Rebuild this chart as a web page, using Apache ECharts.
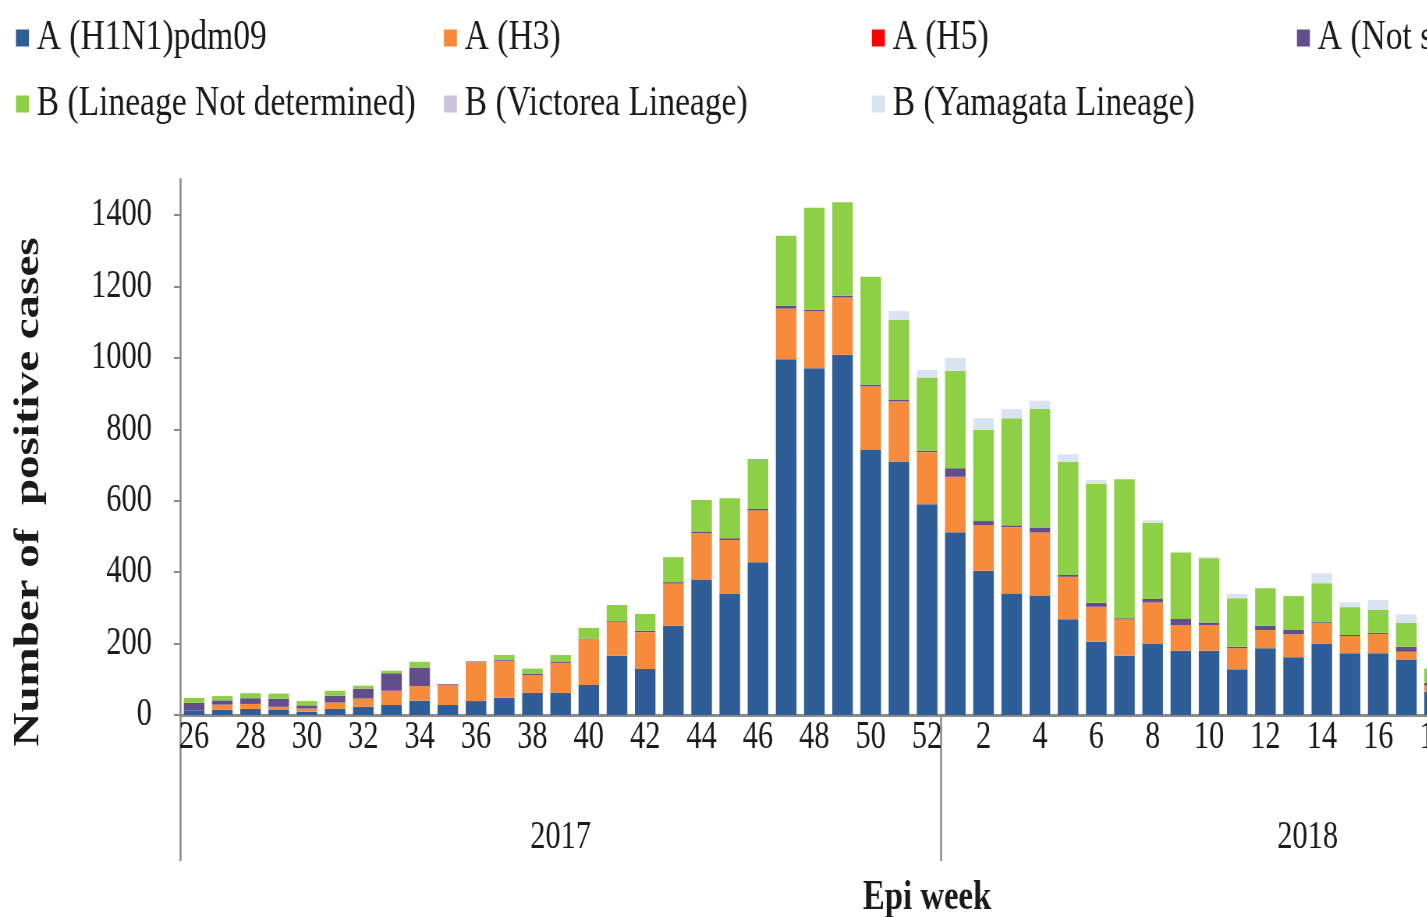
<!DOCTYPE html>
<html><head><meta charset="utf-8">
<script src="https://cdn.jsdelivr.net/npm/echarts@6/dist/echarts.min.js"></script>
<style>
html,body{margin:0;padding:0;background:#fff;overflow:hidden;width:1427px;height:917px}
#main{height:917px;transform-origin:0 0;}
</style></head>
<body><div id="main"></div>
<script>
// ---- data ----
const weeks2017 = [26,27,28,29,30,31,32,33,34,35,36,37,38,39,40,41,42,43,44,45,46,47,48,49,50,51,52];
const weeks2018 = [1,2,3,4,5,6,7,8,9,10,11,12,13,14,15,16,17,18,19,20,21,22,23,24,25,26];
const yTicks = [0,200,400,600,800,1000,1200,1400];
const years = ['2017','2018'];

const h1n1 =           [12,15,17,14,9,17,23,28,40,28,39,48,62,62,84,166,129,250,378,340,428,996,971,1009,742,710,590,512,404,339,333,268,205,166,199,180,180,128,187,162,199,173,173,154,65];
const h3 =             [0,14,14,9,9,18,23,40,41,56,109,104,50,84,128,95,103,118,131,150,145,142,160,160,178,168,146,155,128,187,178,119,98,102,116,72,72,59,51,64,58,48,54,23,17];
const h5 =             [0,0,0,0,0,0,0,0,0,0,0,0,0,0,0,0,0,0,0,0,0,0,0,0,0,0,0,0,0,0,0,0,0,0,0,0,0,0,0,0,0,0,0,0,0];
const notSubtyped =    [22,12,16,23,9,19,28,49,52,2,2,2,4,4,2,2,4,4,5,5,4,8,4,5,5,4,4,24,11,5,14,5,11,3,10,17,7,4,12,12,3,3,3,14,8];
const bNotDetermined = [14,12,14,14,12,14,8,7,16,0,0,14,14,18,30,45,47,70,88,112,140,196,285,262,302,224,205,273,255,300,332,317,333,389,213,186,180,136,105,95,109,78,64,67,40];
const bVictoria =      [0,0,0,0,0,0,0,0,0,0,0,0,0,0,0,0,0,0,0,0,0,0,0,0,0,0,0,0,0,0,0,0,0,0,0,0,0,0,0,0,0,0,0,0,0];
const bYamagata =      [0,0,0,0,0,0,0,0,0,0,0,0,0,0,0,0,0,0,0,0,0,0,0,0,0,25,21,36,33,26,23,21,11,0,7,0,4,12,0,0,28,14,28,24,0];

// ---- layout (reference is horizontally compressed) ----
const S = 0.78;
const W = 1427 / S;
const px = x => x / S;
const el = document.getElementById('main');
el.style.width = W + 'px';
el.style.transform = 'scaleX(' + S + ')';

const categories = weeks2017.map(w => '2017-W' + w).concat(weeks2018.map(w => '2018-W' + w));
const nCat = categories.length;
const catW = px(28.2);
const gridLeft = px(180);
const gridRight = W - gridLeft - nCat * catW;
const n2017 = weeks2017.length;

const FONT = 'Liberation Serif';
const TXT = '#1a1a1a';
const AX = '#8a8a8a';

const seriesDefs = [
  ['A (H1N1)pdm09', h1n1, '#2e5d98'],
  ['A (H3)', h3, '#f68b3c'],
  ['A (H5)', h5, '#ff0000'],
  ['A (Not subtyped)', notSubtyped, '#634e8c'],
  ['B (Lineage Not determined)', bNotDetermined, '#8dcf45'],
  ['B (Victorea Lineage)', bVictoria, '#cbc3dd'],
  ['B (Yamagata Lineage)', bYamagata, '#dae3f0']
];

const legendBase = {
  orient: 'vertical', top: 11, itemGap: 22, icon: 'rect',
  itemWidth: px(13), itemHeight: 17, selectedMode: false,
  textStyle: {fontFamily: FONT, fontSize: 43, lineHeight: 44, color: TXT, padding: [0,0,0,5]}
};
const legendCols = [
  [12, ['A (H1N1)pdm09', 'B (Lineage Not determined)']],
  [440, ['A (H3)', 'B (Victorea Lineage)']],
  [868, ['A (H5)', 'B (Yamagata Lineage)']],
  [1293, ['A (Not subtyped)']]
];

const chart = echarts.init(el, null, {renderer: 'canvas'});
chart.setOption({
  backgroundColor: '#fff',
  animation: false,
  legend: legendCols.map(c => Object.assign({}, legendBase, {left: px(c[0]), data: c[1]})),
  grid: {left: gridLeft, right: gridRight, top: 179.3, bottom: 202, containLabel: false, outerBoundsMode: 'none'},
  xAxis: [
    {
      type: 'category', data: categories, boundaryGap: true,
      axisLine: {onZero: false, lineStyle: {color: AX, width: 3}},
      axisTick: {show: false},
      axisLabel: {interval: 1, margin: 3, fontFamily: FONT, fontSize: 39, lineHeight: 39, color: TXT,
        formatter: v => v.split('-W')[1]},
      name: 'Epi week', nameLocation: 'middle', nameGap: 162,
      nameTextStyle: {fontFamily: FONT, fontSize: 42, fontWeight: 'bold', color: TXT}
    },
    {
      type: 'value', position: 'bottom', min: -0.5, max: nCat - 0.5,
      axisLine: {show: false, onZero: false}, splitLine: {show: false},
      axisTick: {show: true, inside: false, length: 146, customValues: [-0.5, n2017 - 0.5, nCat - 0.5],
        lineStyle: {color: AX, width: 2.5}},
      axisLabel: {customValues: [(n2017 - 1) / 2, n2017 + (weeks2018.length - 1) / 2], margin: 103,
        fontFamily: FONT, fontSize: 39, lineHeight: 39, color: TXT,
        formatter: v => (v < n2017 - 0.5 ? years[0] : years[1])}
    }
  ],
  yAxis: {
    type: 'value', min: 0, max: 1500, interval: 200,
    axisLine: {show: true, onZero: false, lineStyle: {color: AX, width: 2.5}},
    axisTick: {show: true, customValues: yTicks, length: px(6), lineStyle: {color: AX, width: 2}},
    axisLabel: {customValues: yTicks, margin: px(28), fontFamily: FONT, fontSize: 39, color: TXT,
      formatter: v => String(v)},
    splitLine: {show: false}
  },
  graphic: [{
    type: 'text', x: px(29), y: 492, rotation: Math.PI / 2,
    style: {text: 'Number of  positive cases', fontFamily: FONT, fontSize: 47, fontWeight: 'bold',
      fill: TXT, align: 'center', verticalAlign: 'middle'}
  }],
  series: seriesDefs.map(d => ({
    name: d[0], type: 'bar', stack: 'total', data: d[1], barWidth: '73%',
    itemStyle: {color: d[2]}, xAxisIndex: 0
  }))
});
</script>
</body></html>
